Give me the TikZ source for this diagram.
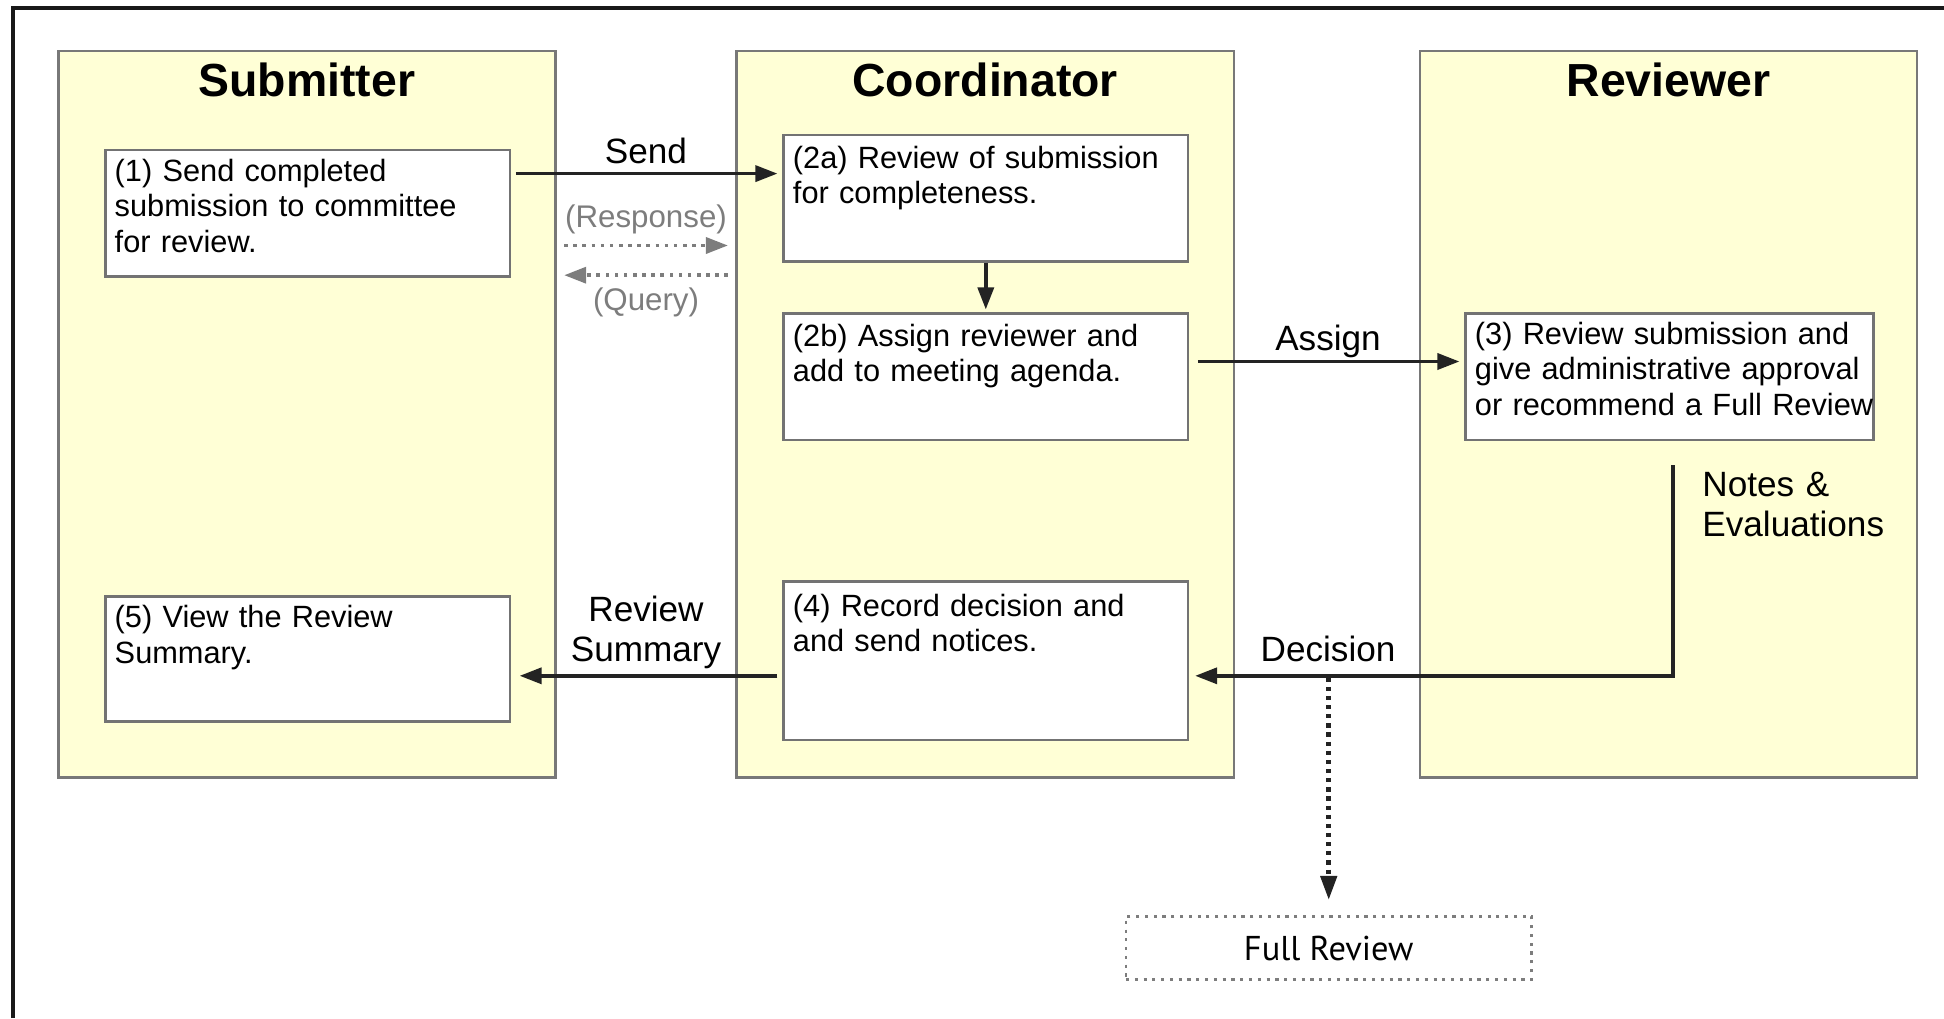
\documentclass[tikz,border=0pt]{standalone}
\usepackage{fontspec}
\setmainfont{Liberation Sans}
\newfontfamily\fullrevfont{PT Sans}
\usetikzlibrary{arrows.meta}
\definecolor{laneyellow}{RGB}{255,255,214}
\definecolor{lanegray}{RGB}{120,120,120}
\definecolor{boxgray}{RGB}{115,115,115}
\definecolor{arrowblack}{RGB}{35,35,35}
\definecolor{softgray}{RGB}{125,125,125}
\begin{document}
\begin{tikzpicture}[
		lane/.style={draw=lanegray, fill=laneyellow, line width=0.7pt, minimum width=4.972cm, minimum height=7.266cm, inner sep=0pt},
		lanetitle/.style={anchor=base, inner sep=0pt, font=\bfseries\fontsize{13.2}{15}\selectfont},
		stepbox/.style={draw=boxgray, fill=white, line width=0.7pt, anchor=north west, minimum width=4.043cm, inner sep=0pt},
		steptext/.style={anchor=base west, text width=4.3cm, align=left, inner sep=0pt, font=\fontsize{8.75}{10}\selectfont},
		lbl/.style={anchor=base, inner sep=0pt, font=\fontsize{10}{11.4}\selectfont},
		ghostlbl/.style={anchor=base, inner sep=0pt, text=softgray, font=\fontsize{8.9}{10}\selectfont},
		flow/.style={draw=arrowblack, line width=1pt, -{Triangle[length=2.2mm,width=1.6mm]}},
		ghostflow/.style={draw=softgray, line width=1pt, dash pattern=on 1pt off 1.6pt, -{Triangle[length=2.2mm,width=1.6mm]}},
		dotflow/.style={draw=arrowblack, line width=1.3pt, dash pattern=on 1.2pt off 1.4pt, -{Triangle[length=2.4mm,width=1.6mm]}}
	]
		\useasboundingbox (0,0) rectangle (19.44,10.18);
		\draw[line width=1.2pt, black!90] (0.13,0) -- (0.13,10.10) -- (19.44,10.10);
		\node[lane] (sublane) at (3.069,6.039) {};
		\node[lane] (coordlane) at (9.852,6.039) {};
		\node[lane] (revlane) at (16.684,6.039) {};
		\node[lanetitle] (subtitle) at (3.069,9.213) {Submitter};
		\node[lanetitle] (coordtitle) at (9.852,9.213) {Coordinator};
		\node[lanetitle] (revtitle) at (16.684,9.213) {Reviewer};
		\node[stepbox, minimum height=1.264cm] (b1) at (1.042,8.692) {};
		\node[stepbox, minimum height=1.265cm] (b2a) at (7.824,8.841) {};
		\node[stepbox, minimum height=1.265cm] (b2b) at (7.824,7.056) {};
		\node[stepbox, minimum height=1.265cm, minimum width=4.08cm] (b3) at (14.644,7.056) {};
		\node[stepbox, minimum height=1.587cm] (b4) at (7.824,4.377) {};
		\node[stepbox, minimum height=1.252cm] (b5) at (1.042,4.228) {};
		\node[steptext] (t1) at ([xshift=2.8pt,yshift=-9.4pt]b1.north west) {(1) Send completed\\submission to committee\\for review.};
		\node[steptext] (t2a) at ([xshift=2.8pt,yshift=-9.9pt]b2a.north west) {(2a) Review of submission\\for completeness.};
		\node[steptext] (t2b) at ([xshift=2.8pt,yshift=-9.6pt]b2b.north west) {(2b) Assign reviewer and\\add to meeting agenda.};
		\node[steptext] (t3) at ([xshift=2.8pt,yshift=-9.2pt]b3.north west) {(3) Review submission and\\give administrative approval\\or recommend a Full Review};
		\node[steptext] (t4) at ([xshift=2.8pt,yshift=-10.3pt]b4.north west) {(4) Record decision and\\and send notices.};
		\node[steptext] (t5) at ([xshift=2.8pt,yshift=-9.3pt]b5.north west) {(5) View the Review\\Summary.};
		\node[draw=softgray, line width=0.8pt, dash pattern=on 0.9pt off 1.6pt, minimum width=4.055cm, minimum height=0.633cm, inner sep=0pt, font=\fullrevfont\fontsize{9.8}{11}\selectfont] (fullrev) at (13.287,0.70) {Full Review};
		\coordinate (sendlvl) at (6.4,8.444);
		\coordinate (assignlvl) at (13.2,6.565);
		\coordinate (declvl) at (10,3.422);
		\coordinate (resp0) at (5.642,7.725);
		\coordinate (resp1) at (7.279,7.725);
		\coordinate (query0) at (7.279,7.428);
		\coordinate (query1) at (5.642,7.428);
		\coordinate (notes0) at (16.728,5.530);
		\coordinate (decsplit) at (13.28,3.422);
		\draw[flow, shorten <=0.05cm, shorten >=0.05cm] (b1.east |- sendlvl) -- (b2a.west |- sendlvl);
		\draw[ghostflow] (resp0) -- (resp1);
		\draw[ghostflow] (query0) -- (query1);
		\draw[flow, shorten >=0.03cm] (b2a.south) -- (b2b.north);
		\draw[flow, shorten <=0.087cm, shorten >=0.05cm] (b2b.east |- assignlvl) -- (b3.west |- assignlvl);
		\draw[flow, shorten >=0.06cm] (notes0) |- (b4.east |- declvl);
		\draw[flow, shorten <=0.05cm, shorten >=0.087cm] (b4.west |- declvl) -- (b5.east |- declvl);
		\draw[dotflow, shorten <=0.08cm, shorten >=0.15cm] (decsplit) -- (fullrev.north |- decsplit) -- (fullrev.north);
		\node[lbl] (sendlbl) at (6.46,8.550) {Send};
		\node[ghostlbl] (resplbl) at (6.46,7.907) {(Response)};
		\node[ghostlbl] (querylbl) at (6.46,7.080) {(Query)};
		\node[lbl] (assignlbl) at (13.28,6.680) {Assign};
		\node[lbl] (declbl) at (13.28,3.563) {Decision};
		\node[lbl, text width=2.5cm, align=center] (sumlbl) at (6.46,3.963) {Review\\Summary};
		\node[lbl, anchor=base west, text width=2.6cm, align=left] (noteslbl) at (17.017,5.213) {Notes \&\\Evaluations};
	\end{tikzpicture}
\end{document}
